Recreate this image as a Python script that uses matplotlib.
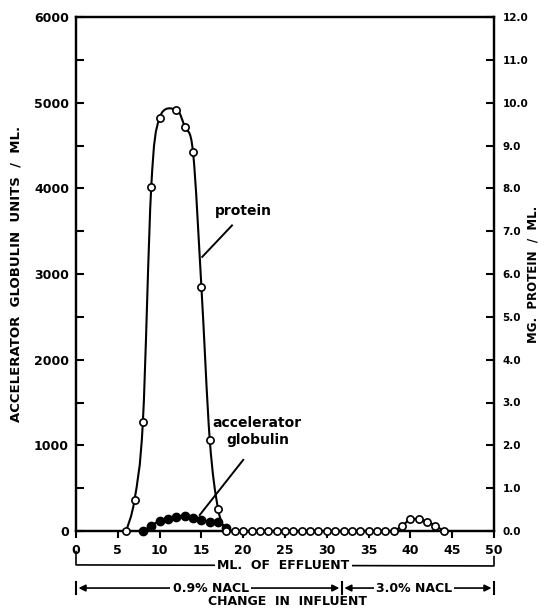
import numpy as np
import matplotlib
matplotlib.use('Agg')
import matplotlib.pyplot as plt
from matplotlib.path import Path
from matplotlib.patches import PathPatch

plt.rcParams['font.family'] = 'DejaVu Sans'
plt.rcParams['font.weight'] = 'bold'

# protein (mg / ml, right axis) vs ml of effluent
prot_x = [6, 7, 8, 9, 10, 12, 13, 14, 15, 16, 17, 18, 19, 20, 21, 22, 23, 24, 25, 26,
          27, 28, 29, 30, 31, 32, 33, 34, 35, 36, 37, 38, 39, 40, 41, 42, 43, 44]
prot_y = [0.0, 0.73, 2.55, 8.03, 9.65, 9.83, 9.44, 8.84, 5.70, 2.13, 0.51, 0.0, 0.0, 0.0,
          0.0, 0.0, 0.0, 0.0, 0.0, 0.0, 0.0, 0.0, 0.0, 0.0, 0.0, 0.0, 0.0, 0.0, 0.0, 0.0,
          0.0, 0.0, 0.12, 0.27, 0.27, 0.22, 0.12, 0.0]

# accelerator globulin (units / ml, left axis)
acg_x = [8, 9, 10, 11, 12, 13, 14, 15, 16, 17, 18]
acg_y = [0, 60, 120, 145, 165, 172, 150, 125, 110, 105, 40]

left_ticks = [0, 1000, 2000, 3000, 4000, 5000, 6000]
right_ticks = list(range(0, 13))
x_ticks = list(range(0, 55, 5))


def smooth_path(x, y, floor=None):
    # catmull-rom through the points, drawn as bezier segments
    x = np.asarray(x, float)
    y = np.asarray(y, float)
    pts = np.column_stack([x, y])
    verts = [pts[0]]
    codes = [Path.MOVETO]
    n = len(pts)
    for i in range(n - 1):
        p0 = pts[max(i - 1, 0)]
        p1 = pts[i]
        p2 = pts[i + 1]
        p3 = pts[min(i + 2, n - 1)]
        c1 = p1 + (p2 - p0) / 6.0
        c2 = p2 - (p3 - p1) / 6.0
        if floor is not None:
            c1[1] = max(c1[1], floor)
            c2[1] = max(c2[1], floor)
        verts += [c1, c2, p2]
        codes += [Path.CURVE4] * 3
    return Path(verts, codes)


fig = plt.figure(figsize=(5.44, 6.09), dpi=100)
ax = fig.add_axes([76/544, 1-531/609, (494-76)/544, (531-17)/609])
ax2 = ax.twinx()

ax.set_xlim(0, 50)
ax.set_ylim(0, 6000)
ax2.set_ylim(0, 12)

# protein curve + open circles on right axis
ax2.add_patch(PathPatch(smooth_path(prot_x, prot_y, floor=0), fc='none', ec='black', lw=1.5, zorder=3))
ax2.plot(prot_x, prot_y, ls='none', marker='o', ms=5.2, mfc='white', mec='black', mew=1.2,
         clip_on=False, zorder=5)

# accelerator globulin curve + filled dots on left axis
ax.add_patch(PathPatch(smooth_path(acg_x + [18.5], acg_y + [0], floor=0), fc='none', ec='black', lw=1.5, zorder=3))
ax.plot(acg_x, acg_y, ls='none', marker='o', ms=6, mfc='black', mec='black',
        clip_on=False, zorder=4)

for a in (ax, ax2):
    for s in a.spines.values():
        s.set_linewidth(1.6)

ax.set_yticks(left_ticks)
ax.set_yticks(np.arange(500, 6000, 1000), minor=True)
ax.tick_params(axis='y', which='both', direction='in', length=6, width=1.5, labelsize=9, pad=5)
ax.set_xticks(x_ticks)
ax.tick_params(axis='x', direction='out', length=5, width=1.5, labelsize=9, pad=4)

ax2.set_yticks(right_ticks)
ax2.set_yticklabels(['%.1f' % v for v in right_ticks])
ax2.tick_params(axis='y', direction='in', length=6, width=1.5, labelsize=7.5, pad=6)

ax.set_ylabel('ACCELERATOR  GLOBULIN  UNITS  /  ML.', fontsize=9.5, fontweight='bold')
ax.yaxis.set_label_coords(-0.127, 0.5)
ax2.set_ylabel('MG.  PROTEIN  /  ML.', fontsize=8.5, fontweight='bold', rotation=90)
ax2.yaxis.set_label_coords(1.078, 0.5)

# curve labels
ax.text(20.0, 3730, 'protein', ha='center', va='center', fontsize=10, fontweight='bold')
ax.plot([15.1, 18.66], [3200, 3567], color='black', lw=1.4)
ax.text(21.7, 1160, 'accelerator\nglobulin', ha='center', va='center', fontsize=10,
        fontweight='bold', linespacing=1.25)
ax.plot([14.8, 20.0], [187, 830], color='black', lw=1.4)

# brackets below axis
tr = ax.get_xaxis_transform()
ax.plot([0, 0, 50, 50], [-0.04, -0.066, -0.068, -0.05], color='black', lw=1.2,
        transform=tr, clip_on=False)
ax.text(24.8, -0.067, 'ML.  OF  EFFLUENT', ha='center', va='center', fontsize=9,
        fontweight='bold', transform=tr, bbox=dict(fc='white', ec='none', pad=1.5))

yb = -0.111
split = 31.8
for xb in (0, split, 50):
    ax.plot([xb, xb], [yb - 0.011, yb + 0.011], color='black', lw=1.5, transform=tr, clip_on=False)
arrow = dict(arrowstyle='-|>', lw=1.2, color='black', mutation_scale=10, shrinkA=0, shrinkB=0)
ax.annotate('', xy=(0.3, yb), xytext=(16, yb), xycoords=tr, textcoords=tr, arrowprops=arrow)
ax.annotate('', xy=(split - 0.3, yb), xytext=(16, yb), xycoords=tr, textcoords=tr, arrowprops=arrow)
ax.annotate('', xy=(split + 0.3, yb), xytext=(40.4, yb), xycoords=tr, textcoords=tr, arrowprops=arrow)
ax.annotate('', xy=(49.7, yb), xytext=(40.4, yb), xycoords=tr, textcoords=tr, arrowprops=arrow)
ax.text(16.1, yb, '0.9% NACL', ha='center', va='center', fontsize=9, fontweight='bold',
        transform=tr, bbox=dict(fc='white', ec='none', pad=1.5))
ax.text(40.4, yb, '3.0% NACL', ha='center', va='center', fontsize=9, fontweight='bold',
        transform=tr, bbox=dict(fc='white', ec='none', pad=1.5))
ax.text(25.3, -0.137, 'CHANGE  IN  INFLUENT', ha='center', va='center', fontsize=9,
        fontweight='bold', transform=tr)

fig.savefig('out.png', dpi=100)
